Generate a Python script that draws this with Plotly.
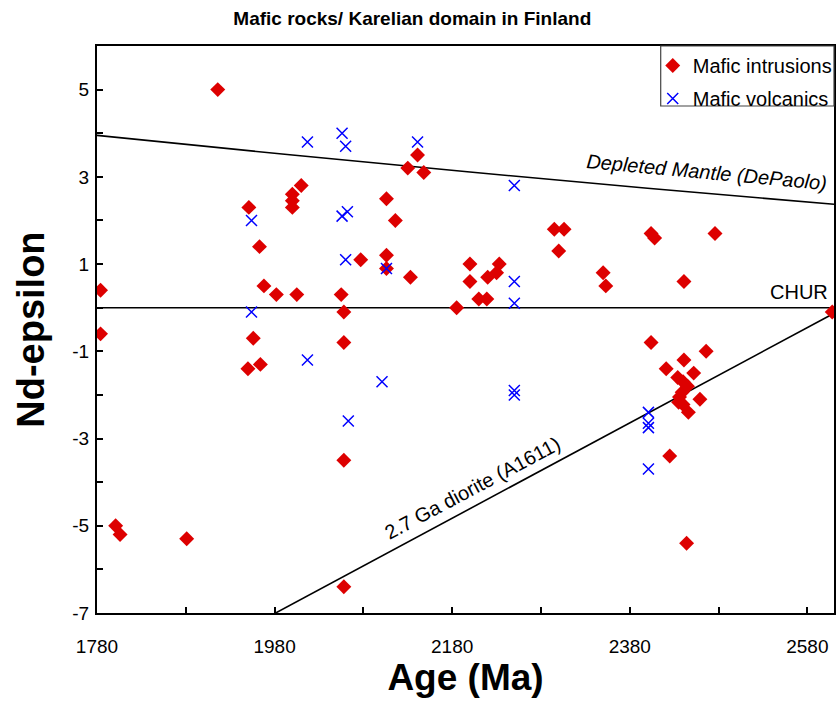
import plotly.graph_objects as go

# ---- data ----
intr_age = [1784, 1784, 1801, 1806, 1881, 1916,
            1950, 1951, 1956, 1963, 1964, 1968, 1982,
            2000, 2000, 2000, 2005, 2010,
            2055, 2058, 2058, 2058, 2058,
            2077, 2106, 2106, 2106, 2116,
            2130, 2133, 2141, 2148,
            2185, 2200, 2200, 2210, 2219, 2220, 2230, 2233,
            2295, 2300, 2306, 2350, 2353,
            2404, 2408, 2404, 2421, 2425,
            2434, 2436, 2435, 2439, 2440, 2440, 2441, 2441, 2444, 2445, 2446, 2452, 2459, 2466, 2476,
            2608]
intr_eps = [0.4, -0.6, -5.0, -5.2, -5.3, 5.0,
            -1.4, 2.3, -0.7, 1.4, -1.3, 0.5, 0.3,
            2.6, 2.45, 2.3, 0.3, 2.8,
            0.3, -0.1, -0.8, -3.5, -6.4,
            1.1, 2.5, 1.2, 0.9, 2.0,
            3.2, 0.7, 3.5, 3.1,
            0.0, 1.0, 0.6, 0.2, 0.2, 0.7, 0.8, 1.0,
            1.8, 1.3, 1.8, 0.8, 0.5,
            1.7, 1.6, -0.8, -1.4, -3.4,
            -1.6, -2.05, -2.17, -1.94, -1.7, -2.22, -1.2, 0.6, -5.4, -1.8, -2.4, -1.5, -2.1, -1.0, 1.7,
            -0.1]

volc_age = [1954, 1954, 2017, 2017, 2056, 2060, 2056, 2062, 2060, 2063, 2101, 2106,
            2141, 2250, 2250, 2250, 2250, 2250, 2401, 2401, 2401, 2401]
volc_eps = [2.0, -0.1, 3.8, -1.2, 4.0, 3.7, 2.1, 2.2, 1.1, -2.6, -1.7, 0.9,
            3.8, 2.8, 0.6, 0.1, -1.9, -2.0, -2.4, -2.65, -2.75, -3.7]

dm_age = [1780, 2000, 2200, 2400, 2610]
dm_eps = [3.95, 3.5, 3.11, 2.74, 2.37]

chur_age = [1780, 2610]
chur_eps = [0, 0]

dior_age = [1972, 2608]
dior_eps = [-7.1, -0.15]

y_tick_vals = [-7, -5, -3, -1, 1, 3, 5]
y_tick_text = ["-7", "-5", "-3", "-1", "1", "3", "5"]
x_tick_vals = [1780, 1980, 2180, 2380, 2580]
x_tick_text = ["1780", "1980", "2180", "2380", "2580"]

FONT = "Arial, Liberation Sans, Helvetica, sans-serif"

fig = go.Figure()

fig.add_trace(go.Scatter(x=dm_age, y=dm_eps, mode="lines", line=dict(color="black", width=1.6),
                         showlegend=False, hoverinfo="skip"))
fig.add_trace(go.Scatter(x=chur_age, y=chur_eps, mode="lines", line=dict(color="black", width=1.6),
                         showlegend=False, hoverinfo="skip"))
fig.add_trace(go.Scatter(x=dior_age, y=dior_eps, mode="lines", line=dict(color="black", width=1.6),
                         showlegend=False, hoverinfo="skip", cliponaxis=False))

fig.add_trace(go.Scatter(x=intr_age, y=intr_eps, mode="markers", name="Mafic intrusions",
                         legendgroup="a",
                         marker=dict(symbol="diamond", size=11.5, color="#DD0000",
                                     line=dict(width=0))))
fig.add_trace(go.Scatter(x=volc_age, y=volc_eps, mode="markers", name="Mafic volcanics",
                         legendgroup="b",
                         marker=dict(symbol="x-thin", size=11, color="#0000FF",
                                     line=dict(width=1.5, color="#0000FF"))))

fig.update_layout(
    width=838, height=711,
    margin=dict(l=97, r=1, t=46, b=98),
    paper_bgcolor="white", plot_bgcolor="white",
    font=dict(family=FONT, color="black", size=19),
    title=dict(text="<b>Mafic rocks/ Karelian domain in Finland</b>",
               xref="container", yref="container", x=0.492, y=1 - 18 / 711,
               xanchor="center", yanchor="middle",
               font=dict(family=FONT, size=19, color="black")),
    legend=dict(x=(655 - 97) / 740, y=1, xanchor="left", yanchor="top",
                bgcolor="rgba(0,0,0,0)", borderwidth=0,
                font=dict(family=FONT, size=20, color="black"),
                traceorder="grouped", tracegroupgap=4, itemwidth=30),
    showlegend=True,
)

fig.update_xaxes(range=[1780, 2610], tickmode="array", tickvals=x_tick_vals, ticktext=x_tick_text,
                 ticks="inside", ticklen=6, tickwidth=1.5, tickcolor="black",
                 minor=dict(dtick=100, tick0=1780, ticks="inside", ticklen=6, tickwidth=1.5,
                            tickcolor="black"),
                 showline=True, linecolor="black", linewidth=2, mirror=True,
                 showgrid=False, zeroline=False,
                 tickfont=dict(size=19), ticklabelstandoff=15,
                 title=dict(text="<b>Age (Ma)</b>", font=dict(size=37), standoff=8))
fig.update_yaxes(range=[-7, 6], tickmode="array", tickvals=y_tick_vals, ticktext=y_tick_text,
                 ticks="inside", ticklen=6, tickwidth=1.5, tickcolor="black",
                 minor=dict(dtick=1, tick0=-7, ticks="inside", ticklen=6, tickwidth=1.5,
                            tickcolor="black"),
                 showline=True, linecolor="black", linewidth=2, mirror=True,
                 showgrid=False, zeroline=False,
                 tickfont=dict(size=19), ticklabelstandoff=2)

# y-axis title placed as rotated text left of the tick labels
fig.add_annotation(xref="paper", yref="paper", x=(30 - 97) / 740, y=0.5,
                   text="<b>Nd-epsilon</b>", textangle=-90, showarrow=False,
                   xanchor="center", yanchor="middle", font=dict(size=38))

# legend box
fig.add_shape(type="rect", xref="paper", yref="paper",
              x0=(663 - 97) / 740, x1=1, y0=(613 - 106) / 567, y1=1,
              line=dict(color="#444444", width=1.2), layer="above")

# line labels
fig.add_annotation(x=2466, y=3.1, text="<i>Depleted Mantle (DePaolo)</i>", showarrow=False,
                   textangle=5.3, font=dict(size=20))
fig.add_annotation(x=2606, y=0.37, text="CHUR", showarrow=False, xanchor="right",
                   font=dict(size=20))
fig.add_annotation(x=2203, y=-4.14, text="2.7 Ga diorite (A1611)", showarrow=False,
                   textangle=-28, font=dict(size=20))

fig.write_html("out.html")
